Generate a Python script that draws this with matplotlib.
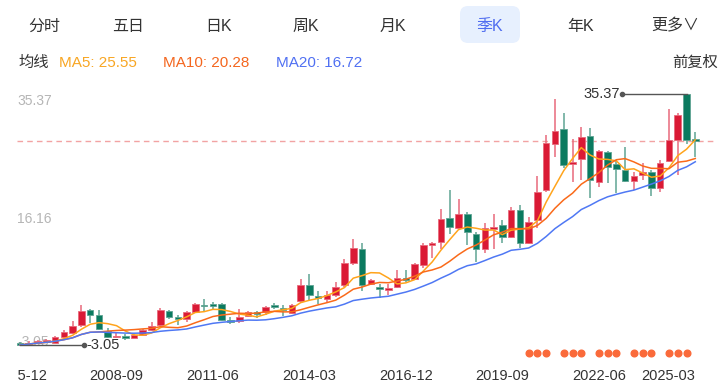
import numpy as np
import pandas as pd
import matplotlib
matplotlib.use("Agg")
import matplotlib.pyplot as plt
from matplotlib.patches import FancyBboxPatch, Rectangle
from matplotlib.transforms import blended_transform_factory, offset_copy

plt.rcParams['font.family'] = ['Liberation Sans', 'Noto Sans CJK SC', 'DejaVu Sans']

# ---------------- data (quarterly candles, forward adjusted) ----------------
open_ = [-2.75, -2.91, -2.75, -2.60, -2.75, -1.83, -1.22, 0.00, 2.30, 1.53,
         -0.92, -1.83, -1.83, -1.99, -1.53, -0.76, 0.00, 2.15, 1.23, 0.92,
         1.99, 3.06, 3.14, 3.22, 0.69, 0.61, 1.38, 1.92, 1.99, 2.99,
         2.53, 1.84, 3.68, 6.13, 4.37, 3.98, 4.60, 6.13, 9.49, 11.64,
         6.28, 5.74, 5.36, 5.82, 7.12, 7.05, 9.19, 12.25, 12.71, 16.38,
         14.85, 17.00, 13.93, 11.64, 14.70, 15.31, 13.48, 17.61, 12.56, 16.08,
         20.67, 27.71, 30.01, 24.65, 25.42, 28.94, 21.90, 26.49, 24.65, 23.73,
         22.05, 22.97, 23.43, 20.98, 25.11, 28.33, 35.37, 28.48]
close = [-3.05, -2.75, -2.45, -2.29, -1.83, -1.07, -0.15, 2.15, 1.53, -0.61,
         -1.83, -1.68, -1.91, -1.53, -0.76, -0.15, 2.30, 1.23, 0.92, 1.99,
         3.22, 2.91, 2.99, 0.77, 0.54, 1.23, 1.99, 1.77, 2.76, 2.83,
         2.38, 3.06, 6.13, 4.60, 4.21, 4.60, 5.82, 9.49, 11.79, 6.13,
         6.89, 5.59, 5.67, 7.20, 6.97, 9.34, 12.25, 12.56, 16.23, 15.01,
         17.00, 14.24, 11.64, 14.85, 15.01, 13.48, 17.61, 12.56, 15.77, 20.36,
         27.87, 29.70, 24.50, 24.96, 28.79, 22.20, 26.64, 24.19, 23.89, 22.05,
         22.81, 23.43, 20.98, 24.80, 28.33, 32.15, 28.33, 28.17]
high = [-2.60, -2.45, -2.29, -2.14, -1.68, -0.76, 0.61, 3.06, 2.45, 2.30,
        -0.46, -1.22, -1.38, -1.38, -0.61, 0.46, 2.61, 2.30, 1.53, 2.15,
        3.37, 3.98, 3.52, 3.37, 1.23, 2.45, 2.15, 2.15, 2.91, 3.37,
        3.06, 3.22, 7.05, 7.81, 5.21, 5.21, 6.59, 10.11, 13.17, 12.56,
        7.05, 6.28, 6.28, 8.42, 8.42, 9.49, 12.56, 12.71, 17.76, 20.67,
        19.29, 17.30, 14.24, 15.62, 17.00, 16.08, 18.07, 18.37, 16.54, 22.81,
        29.09, 34.60, 32.46, 28.48, 30.32, 30.16, 26.79, 26.64, 25.26, 27.25,
        23.43, 24.80, 23.73, 25.26, 33.07, 32.46, 35.37, 29.55]
low = [-3.05, -3.00, -2.91, -2.75, -2.75, -1.99, -1.38, -0.30, 0.31, -0.76,
       -1.99, -1.99, -2.29, -1.99, -1.68, -0.92, -0.15, 0.92, 0.00, 0.46,
       1.84, 2.15, 2.45, 0.61, 0.16, 0.31, 1.23, 1.07, 1.53, 2.45,
       1.38, 1.69, 3.37, 3.83, 3.22, 3.52, 4.29, 5.82, 9.19, 5.21,
       6.13, 4.14, 4.60, 5.67, 6.59, 6.89, 8.73, 10.26, 11.64, 13.93,
       14.55, 12.25, 9.65, 11.03, 11.64, 12.56, 13.32, 11.79, 12.40, 14.85,
       20.36, 25.72, 24.04, 21.90, 22.20, 19.45, 21.13, 21.74, 20.21, 21.90,
       20.67, 22.20, 19.75, 20.36, 24.96, 22.97, 27.71, 25.72]

tick_idx = [0, 11, 22, 33, 44, 55, 66, 77]
tick_labels = ["2005-12", "2008-09", "2011-06", "2014-03", "2016-12",
               "2019-09", "2022-06", "2025-03"]
event_idx = [58, 59, 60, 62, 63, 64, 66, 67, 68, 70, 71, 72, 74, 75, 76]

tabs = ["分时", "五日", "日K", "周K", "月K", "季K", "年K", "更多∨"]
active_tab = "季K"
ma_periods = [5, 10, 20]
ma_header_vals = [25.55, 20.28, 16.72]

# ---------------- styling ----------------
W, H = 724, 390
RED, GREEN = '#DA1A35', '#0B7A5F'
RED_EDGE, GREEN_EDGE = '#E86A7C', '#5FA493'
MA_COLORS = ['#FFA41C', '#FA6A1A', '#4F78F4']
HDR_COLORS = ['#F8A623', '#F4661E', '#5070F2']

fig = plt.figure(figsize=(W / 100, H / 100), dpi=100)
fig.patch.set_facecolor('white')


def fx(px):
    return px / W


def fy(py):
    return 1 - py / H


# tab bar
tab_x = [44, 128, 219, 306, 393, 490, 581, 675]
for t, x in zip(tabs, tab_x):
    if t == active_tab:
        box = FancyBboxPatch(((x - 30) / 100, (H - 43) / 100), 0.60, 0.37,
                             boxstyle="round,pad=0,rounding_size=0.08",
                             transform=fig.dpi_scale_trans,
                             facecolor='#E7F0FE', edgecolor='none')
        fig.patches.append(box)
        col = '#4F6CF0'
    else:
        col = '#333333'
    fig.text(fx(x), fy(26), t, ha='center', va='center', fontsize=11.5, color=col)

# MA header row
fig.text(fx(18), fy(63), "均线", ha='left', va='center', fontsize=11, color='#333333')
hdr_x = [59, 163, 276]
for p, v, c, x in zip(ma_periods, ma_header_vals, HDR_COLORS, hdr_x):
    fig.text(fx(x), fy(63), f"MA{p}: {v:.2f}", ha='left', va='center',
             fontsize=11, color=c)
fig.text(fx(718), fy(63), "前复权", ha='right', va='center', fontsize=11, color='#333333')

# ---------------- chart axes ----------------
n = len(close)
o = np.array(open_); c = np.array(close); h = np.array(high); l = np.array(low)
lo, hi = l.min(), h.max()
rng = hi - lo

ax = fig.add_axes([fx(17), (H - 385) / H, 700 / W, 305 / H])
ax.set_axis_off()
step_px = 8.77
xmin = -3 / step_px
ax.set_xlim(xmin, xmin + 700 / step_px)
ax.set_ylim(lo - rng * 0.1593, hi + rng * 0.0557)

# last close dashed line
ax.axhline(c[-1], color='#F2A3A3', lw=1.0, ls=(0, (4, 3)), zorder=1)

# y labels
ty = blended_transform_factory(ax.transAxes, ax.transData)
ax.text(0.0, hi, f"{hi:.2f}", transform=offset_copy(ty, fig=fig, y=-7, units='dots'),
        ha='left', va='center', fontsize=10, color='#B5B5B5', zorder=0.5)
ax.text(0.0, (hi + lo) / 2, f"{(hi + lo) / 2:.2f}", transform=ty,
        ha='left', va='center', fontsize=10, color='#B5B5B5', zorder=0.5)
ax.text(0.0, lo, f"{lo:.2f}", transform=offset_copy(ty, fig=fig, y=3, units='dots'),
        ha='left', va='center', fontsize=10, color='#B5B5B5', zorder=0.5)

# candles
bw = 0.75
min_h = rng * 0.005
for i in range(n):
    up = c[i] >= o[i]
    col = RED if up else GREEN
    edge = RED_EDGE if up else GREEN_EDGE
    ax.vlines(i, l[i], h[i], color=edge, lw=1.1, zorder=2)
    bottom = min(o[i], c[i])
    height = max(abs(c[i] - o[i]), min_h)
    ax.add_patch(Rectangle((i - bw / 2, bottom), bw, height, facecolor=col,
                           edgecolor=edge, lw=0.6, zorder=3))

# moving averages
s = pd.Series(c)
for p, col in zip(ma_periods, MA_COLORS):
    ma = s.rolling(p, min_periods=1).mean()
    ax.plot(np.arange(n), ma.values, color=col, lw=1.1, zorder=4)

# max / min annotations
imax = int(np.argmax(h)); imin = int(np.argmin(l))
off = 7.3
ax.plot([imax, imax - off], [hi, hi], color='#555555', lw=1.0, zorder=5)
ax.plot([imax - off], [hi], 'o', color='#555555', ms=3, zorder=5)
ax.text(imax - off - 0.3, hi, f"{hi:.2f}", ha='right', va='center',
        fontsize=10.5, color='#333333', zorder=5)
ax.plot([imin, imin + off], [lo, lo], color='#555555', lw=1.0, zorder=5)
ax.plot([imin + off], [lo], 'o', color='#555555', ms=3, zorder=5)
ax.text(imin + off + 0.3, lo, f"{lo:.2f}", ha='left', va='center',
        fontsize=10.5, color='#333333', zorder=5)

# event dots
tb = blended_transform_factory(ax.transData, ax.transAxes)
ax.plot(event_idx, [0.106] * len(event_idx), 'o', color='#FA6A3A', ms=4.8,
        transform=tb, zorder=5, clip_on=False)

# x tick labels
for k, (i, t) in enumerate(zip(tick_idx, tick_labels)):
    ha = 'right' if k == len(tick_idx) - 1 else 'center'
    ax.text(i, 0.0295, t, transform=tb, ha=ha, va='center', fontsize=10.5,
            color='#333333', clip_on=True)

fig.savefig("out.png", dpi=100, facecolor='white')
